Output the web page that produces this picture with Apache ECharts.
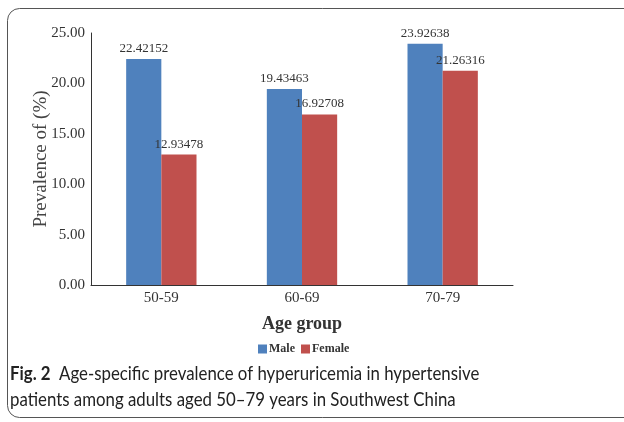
<!DOCTYPE html>
<html><head><meta charset="utf-8">
<script src="https://cdn.jsdelivr.net/npm/echarts@6/dist/echarts.min.js"></script>
<style>html,body{margin:0;padding:0;background:#fff}#c{width:624px;height:422px}</style>
</head><body><div id="c"></div>
<script>
const categories = ['50-59', '60-69', '70-79'];
const maleValues = [22.42152, 19.43463, 23.92638];
const femaleValues = [12.93478, 16.92708, 21.26316];
const yTicks = [0, 5, 10, 15, 20, 25];
const serif = '"Liberation Serif", "DejaVu Serif", serif';
const sans = 'Lato, "Open Sans", sans-serif';
const chart = echarts.init(document.getElementById('c'));
chart.setOption({
  animation: false,
  grid: {left: 91, top: 33, width: 422, height: 252},
  legend: {
    data: ['Male', 'Female'], left: 253, top: 338, itemWidth: 9, itemHeight: 9, itemGap: 6,
    icon: 'rect',
    textStyle: {fontFamily: serif, fontWeight: 'bold', fontSize: 12, color: '#333', padding: [0,0,0,-3]}
  },
  xAxis: {
    type: 'category', data: categories,
    name: 'Age group', nameLocation: 'middle', nameGap: 30, nameMoveOverlap: false,
    nameTextStyle: {fontFamily: serif, fontWeight: 'bold', fontSize: 18, color: '#333'},
    axisLine: {lineStyle: {color: '#333', width: 1}},
    axisTick: {show: false},
    axisLabel: {fontFamily: serif, fontSize: 15, color: '#333', margin: 6}
  },
  yAxis: {
    type: 'value', min: 0, max: 25, interval: 5,
    name: 'Prevalence of (%)', nameLocation: 'middle', nameGap: 40, nameMoveOverlap: false,
    nameTextStyle: {fontFamily: serif, fontSize: 19, color: '#444'},
    axisLine: {show: true, lineStyle: {color: '#333', width: 1}},
    axisTick: {show: false},
    splitLine: {show: false},
    axisLabel: {fontFamily: serif, fontSize: 15, color: '#333', margin: 6,
      formatter: v => yTicks.includes(v) ? v.toFixed(2) : ''}
  },
  series: [
    {name: 'Male', type: 'bar', data: maleValues, barGap: '0%', barCategoryGap: '50%',
     itemStyle: {color: '#4F81BD'},
     label: {show: true, position: 'top', distance: 4, fontFamily: serif, fontSize: 13, color: '#333',
       formatter: p => String(p.value)}},
    {name: 'Female', type: 'bar', data: femaleValues,
     itemStyle: {color: '#C0504D'},
     label: {show: true, position: 'top', distance: 4, fontFamily: serif, fontSize: 13, color: '#333',
       formatter: p => String(p.value)}}
  ],
  graphic: [
    {type: 'rect', shape: {x: 7.5, y: 8.5, width: 640, height: 409, r: 12},
     style: {fill: 'none', stroke: '#555', lineWidth: 1}, z: -1},
    {type: 'text', x: 10, y: 364, scaleX: 0.885,
     style: {text: '{b|Fig. 2}  Age-specific prevalence of hyperuricemia in hypertensive',
       rich: {b: {fontFamily: sans, fontWeight: 'bold', fontSize: 19, fill: '#222'}},
       fontFamily: sans, fontSize: 19, fill: '#222'}},
    {type: 'text', x: 10, y: 390, scaleX: 0.885,
     style: {text: 'patients among adults aged 50–79 years in Southwest China',
       fontFamily: sans, fontSize: 19, fill: '#222'}}
  ]
});
</script></body></html>
